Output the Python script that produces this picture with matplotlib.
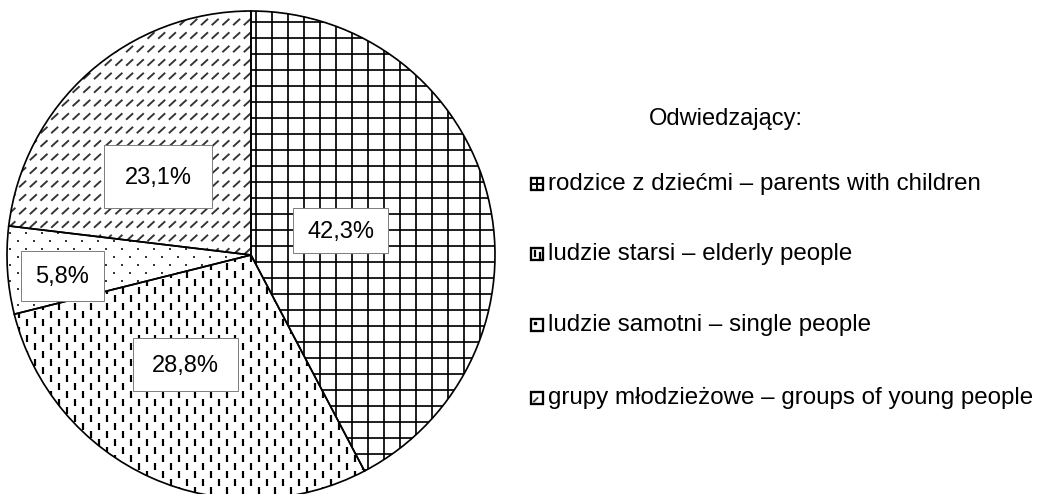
import numpy as np
import matplotlib
matplotlib.use("Agg")
import matplotlib.pyplot as plt
from matplotlib.patches import Wedge, Rectangle
from matplotlib.collections import LineCollection

plt.rcParams['font.family'] = ['Liberation Sans', 'DejaVu Sans']

# data
groups = ['rodzice z dziećmi – parents with children',
          'ludzie starsi – elderly people',
          'ludzie samotni – single people',
          'grupy młodzieżowe – groups of young people']
shares = [42.3, 28.8, 5.8, 23.1]
legend_title = 'Odwiedzający:'

# layout in pixels (axes = image pixels, y down)
W, H = 1040, 494
cx, cy, R = 251, 255, 244
label_boxes = [(293, 208, 95, 45), (133, 338, 105, 53), (21, 251, 83, 50), (104, 145, 108, 63)]
legend_y = [184, 254, 325, 398]
FS = 17
px = 72 / 100  # points per pixel

fig = plt.figure(figsize=(10.4, 4.94), dpi=100)
ax = fig.add_axes([0, 0, 1, 1])
wedges, _ = ax.pie(shares, startangle=-90, counterclock=True, center=(cx, cy), radius=R,
                   wedgeprops=dict(facecolor='white', edgecolor='none'))
ax.set_xlim(0, W)
ax.set_ylim(H, 0)
ax.set_aspect('equal')
ax.axis('off')

x0, x1, y0, y1 = cx - R - 20, cx + R + 20, cy - R - 20, cy + R + 20


def grid_pattern():
    segs = []
    for x in np.arange(255.5 - 16 * 20, x1, 16):
        segs.append([(x, y0), (x, y1)])
    for y in np.arange(38.3 - 16 * 5, y1, 16):
        segs.append([(x0, y), (x1, y)])
    return LineCollection(segs, colors='black', linewidths=1.7 * px)


def dash_pattern():
    segs = []
    for i, y in enumerate(np.arange(y0, y1, 8)):
        off = 8 if i % 2 else 0
        for x in np.arange(x0 + off, x1, 16):
            segs.append([(x, y), (x, y + 7)])
    return LineCollection(segs, colors='black', linewidths=2.2 * px)


def dot_pattern():
    segs = []
    for i, y in enumerate(np.arange(y0 + 2, y1, 8)):
        off = 8 if i % 2 else 0
        for x in np.arange(x0 + 7 + off, x1, 16):
            segs.append([(x - 0.9, y), (x + 0.9, y)])
    return LineCollection(segs, colors='#222222', linewidths=1.8 * px)


def diag_pattern():
    segs = []
    for i, y in enumerate(np.arange(y0 + 4, y1, 13.5)):
        for x in np.arange(x0, x1, 10.7):
            segs.append([(x, y + 3.2), (x + 7, y - 3.2)])
    return LineCollection(segs, colors='#333333', linewidths=1.9 * px)


patterns = [grid_pattern, dash_pattern, dot_pattern, diag_pattern]
for w, make in zip(wedges, patterns):
    lc = make()
    ax.add_collection(lc)
    lc.set_clip_path(w)
    ax.add_patch(Wedge(w.center, w.r, w.theta1, w.theta2, fill=False,
                       edgecolor='black', linewidth=1.7 * px, zorder=3))

for v, (bx, by, bw, bh) in zip(shares, label_boxes):
    ax.add_patch(Rectangle((bx, by), bw, bh, facecolor='white', edgecolor='#808080',
                           linewidth=1 * px, zorder=4))
    ax.text(bx + bw / 2, by + bh / 2 + 1, f'{v:.1f}%'.replace('.', ','), ha='center',
            va='center', fontsize=FS, zorder=5)

# legend
ax.text(726, 119, legend_title, ha='center', va='center', fontsize=FS)
for k, (name, y) in enumerate(zip(groups, legend_y)):
    ax.add_patch(Rectangle((531, y - 6), 12, 12, facecolor='white', edgecolor='black',
                           linewidth=2.3 * px))
    if k == 0:
        ax.plot([537, 537], [y - 6, y + 6], color='black', lw=2 * px)
        ax.plot([531, 543], [y, y], color='black', lw=2 * px)
    elif k == 1:
        ax.plot([534.5, 534.5], [y - 3, y + 2], color='black', lw=2.2 * px)
        ax.plot([539.5, 539.5], [y - 1, y + 4], color='black', lw=2.2 * px)
    elif k == 2:
        ax.plot([534.5], [y - 2.5], marker='s', ms=1.5, color='black')
    else:
        ax.plot([534, 537.5], [y + 3.5, y], color='#333333', lw=1.8 * px)
    ax.text(548, y, name, ha='left', va='center', fontsize=17.4)

fig.savefig('out.png', dpi=100)
